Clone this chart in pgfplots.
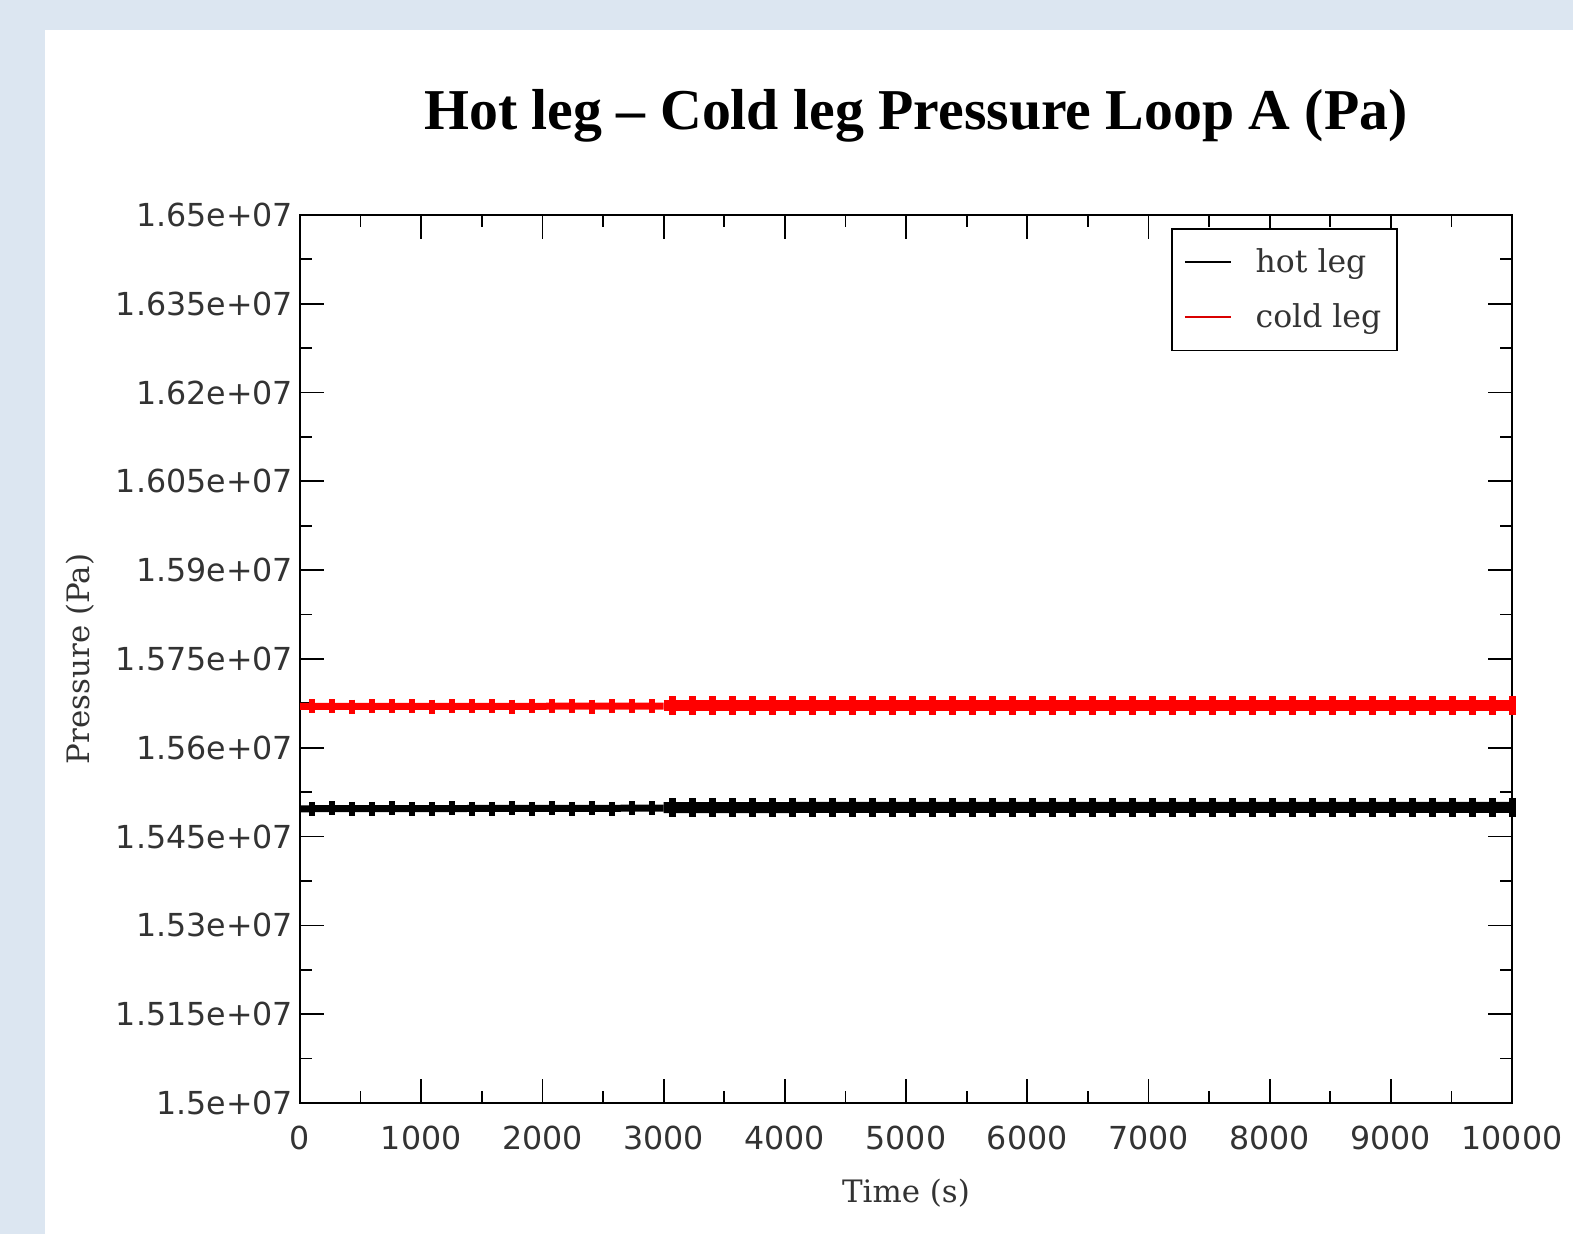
\documentclass[border=0pt]{standalone}
\usepackage{pgfplots}
\pgfplotsset{compat=1.18}
\usepackage{pgfplotstable}
\usepackage{fontspec}
\setmainfont{DejaVu Serif}
\newfontfamily\tickfont{DejaVu Sans}
\newfontfamily\titlefont{Liberation Serif}
\definecolor{bgblue}{HTML}{DCE6F1}

% bump positions (every ~165 s) with the level of each leg
\pgfplotstableread{
t hot cold
100 15497000 15670000
265 15497500 15670000
430 15497000 15669500
595 15497000 15670000
760 15497500 15670000
925 15497000 15670000
1090 15497000 15669500
1255 15497500 15670000
1420 15497000 15670000
1585 15497000 15670000
1750 15497500 15669500
1915 15497000 15670000
2080 15497500 15670000
2245 15497000 15670000
2410 15497500 15669500
2575 15497000 15670000
2740 15497500 15670000
2905 15497500 15670000
}\early
\pgfplotstableread{
t hot cold
3070 15499000 15671000
3235 15499000 15671000
3400 15499500 15671000
3565 15499000 15671000
3730 15499500 15671000
3895 15499000 15671000
4060 15499500 15671000
4225 15499000 15671000
4390 15499500 15671000
4555 15499000 15671000
4720 15499500 15671000
4885 15499000 15671000
5050 15499500 15671000
5215 15499000 15671000
5380 15499500 15671000
5545 15499000 15671000
5710 15499500 15671000
5875 15499000 15671000
6040 15499500 15671000
6205 15499000 15671000
6370 15499500 15671000
6535 15499000 15671000
6700 15499500 15671000
6865 15499000 15671000
7030 15499500 15671000
7195 15499000 15671000
7360 15499500 15671000
7525 15499000 15671000
7690 15499500 15671000
7855 15499000 15671000
8020 15499500 15671000
8185 15499000 15671000
8350 15499500 15671000
8515 15499000 15671000
8680 15499500 15671000
8845 15499000 15671000
9010 15499500 15671000
9175 15499000 15671000
9340 15499500 15671000
9505 15499000 15671000
9670 15499500 15671000
9835 15499000 15671000
10000 15499500 15671000
}\late

\begin{document}
\begin{tikzpicture}
\fill[bgblue] (0,0) rectangle (786.5bp,617bp);
\fill[white] (22.5bp,0) rectangle (786.5bp,602bp);
\node[anchor=base, font=\titlefont\bfseries\fontsize{29}{32}\selectfont] at (458bp,552bp) {Hot leg – Cold leg Pressure Loop A (Pa)};
\begin{axis}[
  at={(150bp,65.5bp)}, anchor=south west,
  scale only axis, width=606bp, height=444bp,
  xmin=0, xmax=10000, ymin=15000000, ymax=16500000,
  scaled x ticks=false, scaled y ticks=false,
  xtick={0,1000,2000,3000,4000,5000,6000,7000,8000,9000,10000},
  xticklabels={0,1000,2000,3000,4000,5000,6000,7000,8000,9000,10000},
  ytick={15000000,15150000,15300000,15450000,15600000,15750000,15900000,16050000,16200000,16350000,16500000},
  yticklabels={1.5e+07,1.515e+07,1.53e+07,1.545e+07,1.56e+07,1.575e+07,1.59e+07,1.605e+07,1.62e+07,1.635e+07,1.65e+07},
  minor x tick num=1, minor y tick num=1,
  tick align=inside, xtick pos=both, ytick pos=both,
  major tick length=12bp, minor tick length=6bp,
  every tick/.style={black, line width=0.9pt},
  axis line style={line width=1pt},
  ticklabel style={font=\tickfont\fontsize{15.9}{18}\selectfont, text=black!80},
  xticklabel style={yshift=-8bp},
  xlabel={Time (s)}, ylabel={Pressure (Pa)},
  label style={font=\fontsize{15.5}{18}\selectfont, text=black!80},
  xlabel style={at={(axis description cs:0.5,-0.101)}, anchor=center},
  ylabel style={at={(axis description cs:-0.1815,0.5)}, anchor=center},
  legend style={at={(axis description cs:0.906,0.9854)}, anchor=north east,
    draw=black, line width=0.8pt, font=\fontsize{15.8}{18}\selectfont,
    inner xsep=6bp, inner ysep=8bp, row sep=10bp, column sep=10bp, text=black!80},
  legend cell align=left,
  legend image code/.code={\draw[#1] (0bp,0bp) -- (23bp,0bp);},
]
\addlegendimage{draw=black, line width=0.7pt}
\addlegendentry{hot leg}
\addlegendimage{draw=red!85!black, line width=0.7pt}
\addlegendentry{cold leg}
% cold leg
\addplot[forget plot, red, line width=3.5bp] coordinates {(0,15670000) (1500,15670000) (3000,15670500)};
\addplot[forget plot, red, line width=5.5bp] coordinates {(3000,15671000) (6500,15671000) (10000,15671000)};
\addplot[forget plot, only marks, red, mark=|, mark size=3.5bp, mark options={line width=3bp}] table[x=t, y=cold] {\early};
\addplot[forget plot, only marks, red, mark=|, mark size=4.75bp, mark options={line width=3.5bp}] table[x=t, y=cold] {\late};
% hot leg
\addplot[forget plot, black, line width=3.5bp] coordinates {(0,15497000) (1500,15497500) (3000,15498000)};
\addplot[forget plot, black, line width=5.5bp] coordinates {(3000,15499000) (6500,15499500) (10000,15499500)};
\addplot[forget plot, only marks, black, mark=|, mark size=3.5bp, mark options={line width=3bp}] table[x=t, y=hot] {\early};
\addplot[forget plot, only marks, black, mark=|, mark size=4.75bp, mark options={line width=3.5bp}] table[x=t, y=hot] {\late};
\end{axis}
\pgfresetboundingbox
\path[use as bounding box] (0,0) rectangle (786.5bp,617bp);
\end{tikzpicture}
\end{document}
